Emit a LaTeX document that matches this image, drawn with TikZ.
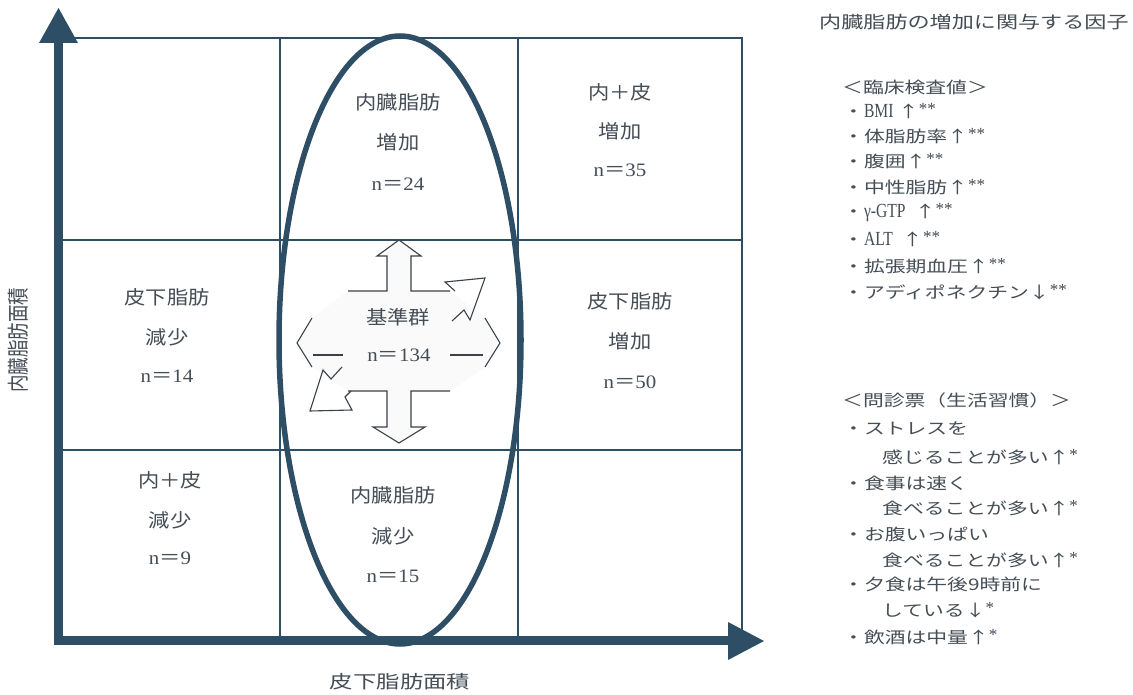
\documentclass[tikz,border=0pt]{standalone}
\usepackage{fontspec}
\usepackage{graphicx}
\setmainfont{Liberation Serif}
\newfontfamily\jpc[FakeStretch=1.12]{Noto Sans CJK JP}
\newfontfamily\jpr[FakeStretch=1.3]{Noto Sans CJK JP}
\newfontfamily\jpy{Noto Sans CJK JP}
\newfontfamily\serc[FakeStretch=1.1]{Liberation Serif}
\newfontfamily\sern[FakeStretch=0.78]{Liberation Serif}
\definecolor{axc}{HTML}{2E4E66}
\definecolor{txc}{HTML}{454D55}
\newcommand\nv[1]{{\serc n}{\jpc ＝}{\serc #1}}
\newcommand\stars[1]{\raisebox{3pt}{\fontsize{17}{17}\selectfont\rmfamily #1}}
\newcommand\lat[1]{{\sern\fontsize{20}{20}\selectfont #1}}
\begin{document}
\begin{tikzpicture}[x=1pt,y=-1pt,
  ln/.style={draw=axc, line width=1.4pt},
  cell/.style={text=txc, inner sep=0pt, font=\jpc\fontsize{19}{19}\selectfont},
  rt/.style={text=txc, inner sep=0pt, anchor=west, font=\jpr\fontsize{16}{16}\selectfont},
  cr/.style={draw=txc!85!black, line width=1.1pt, line join=miter}
]
\useasboundingbox (0,0) rectangle (1133,695);
\fill[white] (0,0) rectangle (1133,695);

% grid
\draw[ln] (58,38) -- (742,38) -- (742,640);
\draw[ln] (280,38) -- (280,640);
\draw[ln] (518,38) -- (518,640);
\draw[ln] (58,240) -- (742,240);
\draw[ln] (58,450) -- (742,450);

% axes
\fill[axc] (54,645) rectangle (63,42);
\fill[axc] (39,43) -- (78,43) -- (58.5,8) -- cycle;
\fill[axc] (54,635.5) rectangle (729,645);
\fill[axc] (728,622) -- (728,660) -- (764,641) -- cycle;

% ellipse
\draw[draw=axc, line width=5.5pt] (400,340) ellipse [x radius=121pt, y radius=304pt];

% central cross
\fill[gray!4] (348,291) -- (387,291) -- (387,256) -- (377,256) -- (399,240) -- (421,256) -- (411,256) -- (411,291) -- (450,291)
  -- (485,318) -- (500,343) -- (485,367) -- (450,391) -- (411,391) -- (411,427) -- (425,427) -- (399,443) -- (373,427)
  -- (387,427) -- (387,391) -- (348,391) -- (312,367) -- (297,343) -- (312,318) -- cycle;
\draw[cr] (348,291) -- (387,291) -- (387,256) -- (377,256) -- (399,240) -- (421,256) -- (411,256) -- (411,291) -- (450,291);
\draw[cr] (348,391) -- (387,391) -- (387,427) -- (373,427) -- (399,443) -- (425,427) -- (411,427) -- (411,391) -- (450,391);
\draw[cr] (312,318) -- (297,343) -- (312,367);
\draw[cr] (313,355) -- (343,355);
\draw[cr] (485,318) -- (500,343) -- (485,367);
\draw[cr] (450,355) -- (483,355);
\draw[cr] (455,291) -- (445,282) -- (485,278) -- (470,320) -- (464,310) -- (452,321);
\draw[cr] (342,367) -- (331,379) -- (323,370) -- (310,411) -- (352,410) -- (345,397) -- (351,391);

% cell texts
\node[cell] (tm1) at (398,102) {内臓脂肪};
\node[cell] (tm2) at (398,142) {増加};
\node[cell] (tm3) at (398,184) {\nv{24}};
\node[cell] (tr1) at (620,92) {内＋皮};
\node[cell] (tr2) at (620,131) {増加};
\node[cell] (tr3) at (620,170) {\nv{35}};
\node[cell] (ml1) at (167,297) {皮下脂肪};
\node[cell] (ml2) at (167,337) {減少};
\node[cell] (ml3) at (167,376) {\nv{14}};
\node[cell] (mr1) at (630,301) {皮下脂肪};
\node[cell] (mr2) at (630,341) {増加};
\node[cell] (mr3) at (630,382) {\nv{50}};
\node[cell] (bl1) at (170,480) {内＋皮};
\node[cell] (bl2) at (170,520) {減少};
\node[cell] (bl3) at (170,558) {\nv{9}};
\node[cell] (bm1) at (393,495) {内臓脂肪};
\node[cell] (bm2) at (393,536) {減少};
\node[cell] (bm3) at (393,576) {\nv{15}};
\node[cell] (c1) at (398,317) {基準群};
\node[cell] (c2) at (399,355) {\nv{134}};

% axis labels
\node[text=txc, inner sep=0pt, font=\jpr\fontsize{18}{18}\selectfont] (xl) at (400,682) {皮下脂肪面積};
\node[text=txc, inner sep=0pt, rotate=90, font=\jpy\fontsize{17.5}{17.5}\selectfont] (yl) at (18,340) {\scalebox{1}[1.25]{内臓脂肪面積}};

% right panel
\node[rt, font=\jpr\fontsize{17}{17}\selectfont] (title) at (819,22) {内臓脂肪の増加に関与する因子};
\node[rt] (h1) at (842,87) {＜臨床検査値＞};
\node[rt] (a1) at (843,111) {・\lat{BMI}\ ↑\stars{**}};
\node[rt] (a2) at (843,136) {・体脂肪率↑\stars{**}};
\node[rt] (a3) at (843,161) {・腹囲↑\stars{**}};
\node[rt] (a4) at (843,187) {・中性脂肪↑\stars{**}};
\node[rt] (a5) at (843,213) {・\lat{γ-GTP}\ \ ↑\stars{**}};
\node[rt] (a6) at (843,239) {・\lat{ALT}\ \ ↑\stars{**}};
\node[rt] (a7) at (843,266) {・拡張期血圧↑\stars{**}};
\node[rt] (a8) at (843,292) {・アディポネクチン↓\stars{**}};

\node[rt] (h2) at (842,400) {＜問診票（生活習慣）＞};
\node[rt] (b1) at (843,428) {・ストレスを};
\node[rt] (b1b) at (882,457) {感じることが多い↑\stars{*}};
\node[rt] (b2) at (843,483) {・食事は速く};
\node[rt] (b2b) at (882,508) {食べることが多い↑\stars{*}};
\node[rt] (b3) at (843,534) {・お腹いっぱい};
\node[rt] (b3b) at (882,560) {食べることが多い↑\stars{*}};
\node[rt] (b4) at (843,584) {・夕食は午後9時前に};
\node[rt] (b4b) at (882,610) {している↓\stars{*}};
\node[rt] (b5) at (843,637) {・飲酒は中量↑\stars{*}};
\end{tikzpicture}
\end{document}
